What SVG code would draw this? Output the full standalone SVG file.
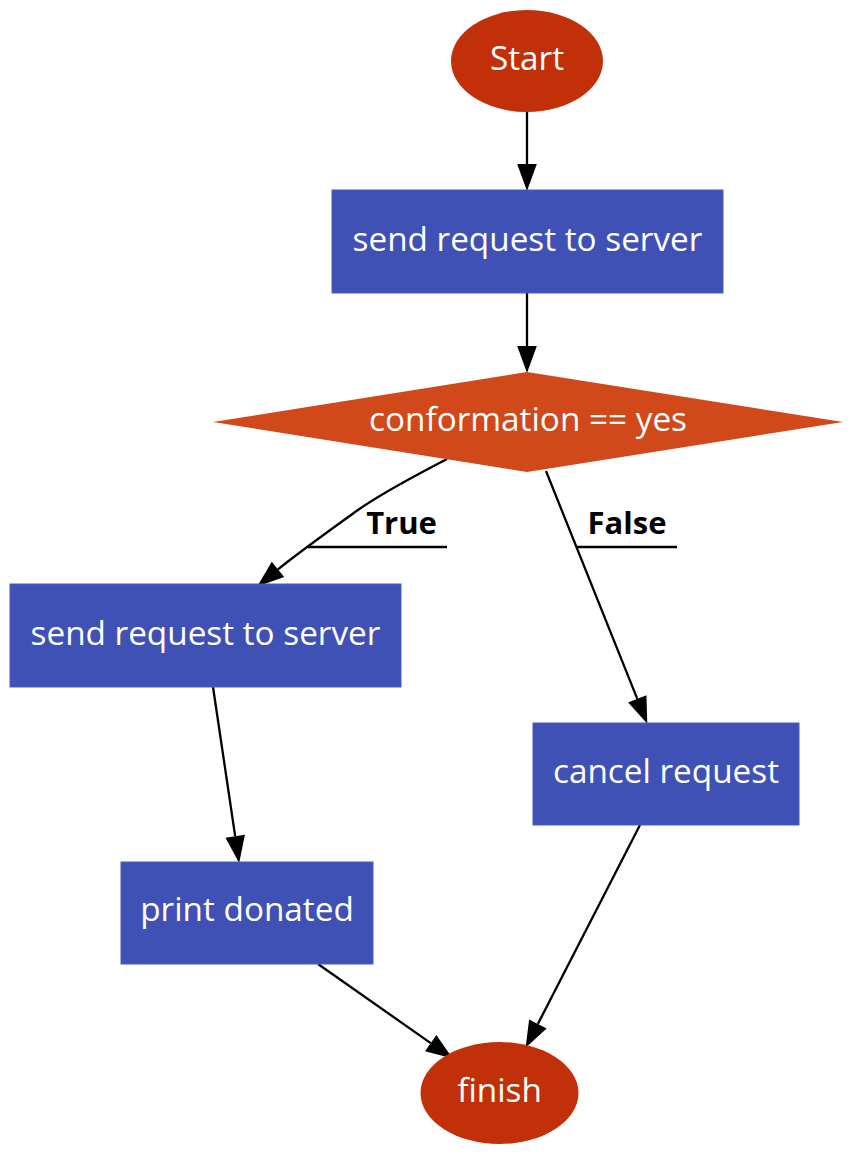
<svg xmlns="http://www.w3.org/2000/svg" width="867" height="1169" viewBox="0 0 867 1169">
<defs>
<style>
.bg{fill:#ffffff}
.term{fill:#c2300a}
.dec{fill:#d1481b}
.proc{fill:#3f51b5;stroke:#4a5cc0;stroke-width:1}
.nt{font-family:"Open Sans","Noto Sans",sans-serif;font-size:33.3px;fill:#ffffff;text-anchor:middle}
.lt{font-family:"Open Sans","Noto Sans",sans-serif;font-size:31px;font-weight:bold;fill:#000000;text-anchor:middle}
.edge{fill:none;stroke:#000000;stroke-width:2.3}
</style>
<marker id="arr" markerUnits="userSpaceOnUse" markerWidth="30" markerHeight="24" refX="0" refY="0" viewBox="-1 -11 29 22" orient="auto" overflow="visible">
<path d="M0,-9.5 L26,0 L0,9.5 Z" fill="#000000"/>
</marker>
</defs>
<rect class="bg" x="0" y="0" width="867" height="1169"/>

<g id="connectors">
<path class="edge" d="M527,111 L527,164" marker-end="url(#arr)"/>
<path class="edge" d="M527,293 L527,346" marker-end="url(#arr)"/>
<path class="edge" d="M447,459 C415,476 385,491 358,510 C333,528 298,553 278,569.4" marker-end="url(#arr)"/>
<path class="edge" d="M546,471 L637.3,698.9" marker-end="url(#arr)"/>
<path class="edge" d="M213,687 L235.2,836.3" marker-end="url(#arr)"/>
<path class="edge" d="M640,825 L537.9,1023.9" marker-end="url(#arr)"/>
<path class="edge" d="M318,964 L430.7,1043.1" marker-end="url(#arr)"/>
<g id="label-true">
<text class="lt" x="401.5" y="534">True</text>
<path class="edge" d="M308,547 L447,547"/>
</g>
<g id="label-false">
<text class="lt" x="627" y="534">False</text>
<path class="edge" d="M577,547 L677,547"/>
</g>
</g>

<g id="start">
<ellipse class="term" cx="527" cy="61" rx="76" ry="51"/>
<text class="nt" x="527" y="70">Start</text>
</g>
<g id="send1">
<rect class="proc" x="332" y="190" width="391" height="103"/>
<text class="nt" x="527.5" y="251">send request to server</text>
</g>
<g id="decision">
<polygon class="dec" points="527,372 843,422 527,472 213,422"/>
<text class="nt" x="528" y="431">conformation == yes</text>
</g>
<g id="send2">
<rect class="proc" x="10" y="584" width="391" height="103"/>
<text class="nt" x="205.5" y="645">send request to server</text>
</g>
<g id="cancel">
<rect class="proc" x="533" y="723" width="266" height="102"/>
<text class="nt" x="666" y="783">cancel request</text>
</g>
<g id="print">
<rect class="proc" x="121" y="862" width="252" height="102"/>
<text class="nt" x="247" y="921">print donated</text>
</g>
<g id="finish">
<ellipse class="term" cx="499.5" cy="1093" rx="79" ry="51"/>
<text class="nt" x="499.5" y="1102">finish</text>
</g>
</svg>
